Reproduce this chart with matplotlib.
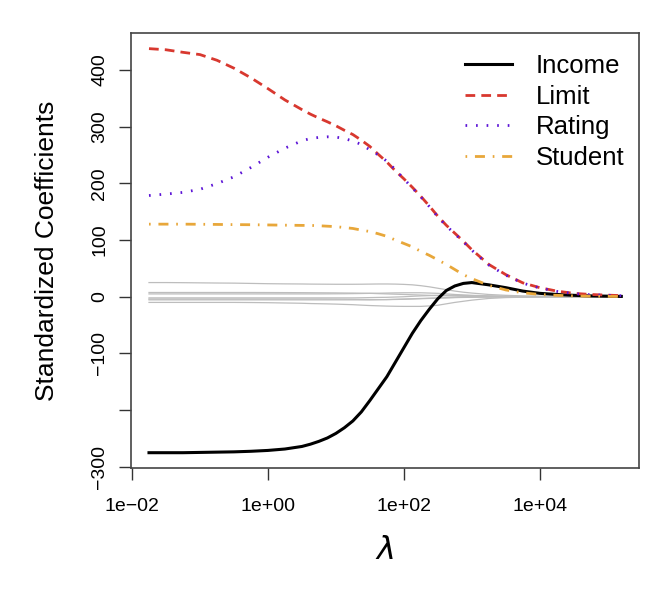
import matplotlib
matplotlib.use('Agg')
import matplotlib.pyplot as plt
import numpy as np

# log10(lambda) values the curves were read at
log_lambda = [-1.75, -1.5, -1.25, -1.0, -0.75, -0.5, -0.25, 0.0, 0.25, 0.5,
              0.625, 0.75, 0.875, 1.0, 1.125, 1.25, 1.375, 1.5, 1.625, 1.75,
              1.875, 2.0, 2.125, 2.25, 2.375, 2.5, 2.625, 2.75, 2.875, 3.0,
              3.25, 3.5, 3.75, 4.0, 4.25, 4.5, 4.75, 5.0, 5.2]

income = [-275, -275, -275, -274.5, -274, -273.5, -272.5, -271, -268.5, -264,
          -260, -255, -249, -241, -231, -219, -203, -183, -162, -141,
          -115.5, -90, -64.5, -42, -22, -3.5, 11, 19, 23.5, 25,
          21, 16, 10, 6, 4, 2.5, 1.5, 1, 0.6]
limit = [437.5, 435.5, 431, 427, 417, 403, 386, 367, 347, 330,
         322, 315, 308.5, 301.5, 293.5, 286, 276, 265, 251, 237.5,
         222, 208, 193, 177, 160, 142, 126, 112, 98, 83,
         57, 39, 24.5, 16, 10, 6, 4, 2.8, 2]
rating = [178.5, 181, 184, 189.5, 199.5, 211.5, 228, 246, 262, 275,
          279, 281, 282, 281.5, 279, 274.5, 268.5, 259, 250, 239,
          224, 208, 192, 176, 159, 141, 125, 111, 97, 82,
          56, 38, 24, 15.5, 9.5, 5.5, 3.5, 2.5, 1.8]
student = [128, 128, 128, 127.8, 127.5, 127.2, 127, 126.6, 126.2, 125.8,
           125.8, 125.2, 124.4, 123.6, 122, 120.4, 117.5, 115, 111, 106.5,
           100, 94, 88, 80, 73, 65, 57, 48, 39, 32,
           20, 12, 7, 4, 2.5, 1.5, 1, 0.6, 0.4]

# remaining predictors, drawn in grey
others = [
    [25, 25, 24.8, 24.5, 24.2, 24, 23.5, 23, 22.7, 22.5,
     22.3, 22.2, 22.1, 22, 22, 22, 22.1, 22.3, 22.5, 22.5,
     22.3, 21.8, 21, 19.5, 17.5, 15, 12.5, 10, 8, 6.5,
     4, 2.5, 1.5, 1, 0.6, 0.4, 0.2, 0.1, 0.05],
    [7.5, 7.5, 7.5, 7.5, 7.5, 7.5, 7.5, 7.4, 7.3, 7.2,
     7.1, 7, 6.9, 6.8, 6.6, 6.5, 6.2, 6, 5.5, 5,
     4.5, 4, 3.5, 3, 2.5, 2, 1.6, 1.2, 0.9, 0.6,
     0.3, 0.1, 0.05, 0.03, 0.02, 0.01, 0, 0, 0],
    [5, 5, 5, 5, 5, 5, 5, 5, 5, 5,
     5, 5, 5.1, 5.2, 5.3, 5.5, 5.7, 6, 6.2, 6.5,
     6.8, 7, 7, 7, 6.5, 6, 5, 4, 3.2, 2.5,
     1.5, 0.8, 0.4, 0.2, 0.1, 0.05, 0, 0, 0],
    [-2, -2, -2, -2, -2, -2, -2, -2, -2, -2,
     -2, -2, -2, -2, -2, -2, -1.8, -1.5, -1.2, -1,
     -0.5, 0, 0.8, 1.5, 2, 2.5, 2.6, 2.5, 2.2, 2,
     1.3, 0.7, 0.3, 0.2, 0.1, 0.05, 0, 0, 0],
    [-4, -4, -4, -4, -4, -4, -4, -4, -4, -4,
     -4, -4, -4.1, -4.2, -4.3, -4.5, -4.8, -5, -5, -5,
     -4.8, -4.5, -4, -3.5, -3, -2.5, -2, -1.5, -1.2, -1,
     -0.5, -0.3, -0.1, -0.05, 0, 0, 0, 0, 0],
    [-5.5, -5.5, -5.5, -5.5, -5.5, -5.5, -5.5, -5.5, -5.5, -5.5,
     -5.5, -5.5, -5.5, -5.5, -5.5, -5.5, -5.5, -5.5, -5.2, -5,
     -4.5, -4, -3.5, -3, -2.5, -2, -1.6, -1.2, -0.9, -0.7,
     -0.4, -0.2, -0.1, -0.05, 0, 0, 0, 0, 0],
    [-10, -10, -10, -10, -10, -10, -10.2, -10.5, -11, -11.5,
     -12, -12.3, -12.6, -13, -13.5, -14, -14.8, -15.5, -16, -16.5,
     -16.8, -17, -17, -17, -16.2, -15, -12.5, -10, -8, -6,
     -3, -1.5, -0.8, -0.4, -0.2, -0.1, 0, 0, 0],
]

lam = 10.0 ** np.array(log_lambda)

plt.rcParams['font.family'] = ['Liberation Sans', 'DejaVu Sans']

fig = plt.figure(figsize=(6.7, 5.91), dpi=100)
ax = fig.add_axes([0.1955, 0.2081, 0.7582, 0.736])

for g in others:
    ax.plot(lam, g, color='#bdbdbd', lw=0.9)

ax.plot(lam, income, color='black', lw=2.2, label='Income')
ax.plot(lam, limit, color='#d8382f', lw=2.0, dashes=(3.5, 2.2), label='Limit')
ax.plot(lam, rating, color='#5b13d6', lw=2.0, dashes=(0.6, 3.2), label='Rating')
ax.plot(lam, student, color='#e8a73a', lw=2.0, dashes=(0.6, 2.8, 3.6, 2.8), label='Student')

ax.set_xscale('log')
ax.set_xlim(10 ** -2.015, 10 ** 5.46)
ax.set_ylim(-302, 465)

ax.set_xticks([1e-2, 1e0, 1e2, 1e4])
ax.set_xticklabels(['1e\u221202', '1e+00', '1e+02', '1e+04'])
ax.xaxis.set_minor_locator(matplotlib.ticker.NullLocator())
ax.set_yticks([-300, -200, -100, 0, 100, 200, 300, 400])
ax.set_yticklabels(['\u2212300', '', '\u2212100', '0', '100', '200', '300', '400'],
                   rotation=90, va='center')

ax.tick_params(axis='both', direction='out', length=8.5, width=1.0, color='#333333',
               labelsize=14)
ax.tick_params(axis='x', pad=13)
ax.tick_params(axis='y', pad=8)
for s in ax.spines.values():
    s.set_color('#444444')
    s.set_linewidth(1.2)

ax.set_ylabel('Standardized Coefficients', fontsize=19, labelpad=23)
ax.set_xlabel(r'$\lambda$', fontsize=23, labelpad=15)

ax.legend(loc='upper left', bbox_to_anchor=(0.657, 0.952), frameon=False,
          fontsize=18.5, handlelength=1.85, handletextpad=0.9, labelspacing=0.26,
          borderaxespad=0, borderpad=0)

fig.savefig('out.png', dpi=100)
